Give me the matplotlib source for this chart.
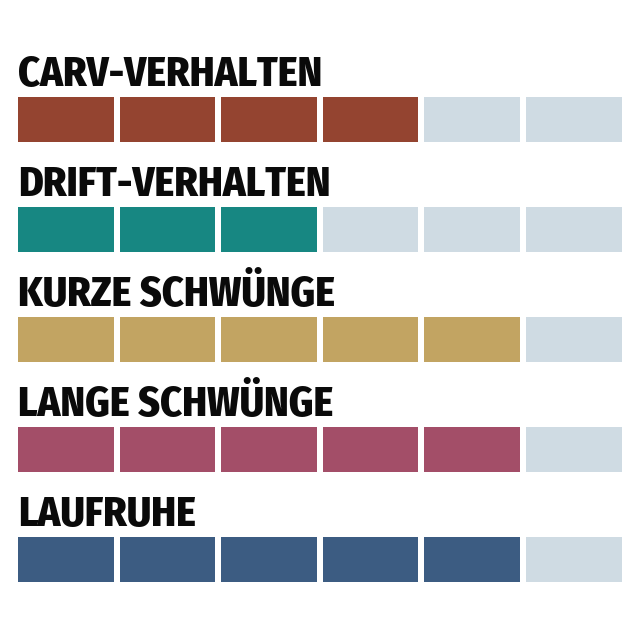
import matplotlib
matplotlib.use("Agg")
import matplotlib.pyplot as plt

# ratings out of 6
categories = ["CARV-VERHALTEN", "DRIFT-VERHALTEN", "KURZE SCHWÜNGE", "LANGE SCHWÜNGE", "LAUFRUHE"]
scores = [4, 3, 5, 5, 5]
max_score = 6
colors = ["#944430", "#178782", "#c2a462", "#a34e68", "#3c5c82"]
empty_color = "#cfdbe3"

fig = plt.figure(figsize=(6.4, 6.4), dpi=100)
ax = fig.add_axes([0, 0, 1, 1])

seg_w = 0.94
bar_h = 0.41
for i, (name, score, col) in enumerate(zip(categories, scores, colors)):
    for k in range(max_score):
        fc = col if k < score else empty_color
        ax.barh(i, seg_w, left=k, height=bar_h, align="center", color=fc, edgecolor="none")
    ax.text(0, i - 0.305, name, ha="left", va="baseline",
            fontsize=30, fontweight=800,
            family=["Fira Sans Condensed", "Roboto Condensed", "DejaVu Sans"], color="#0a0a0a")

# pixel-matched limits: segment pitch ~101.6px, row pitch 110px
ax.set_xlim(-18 / 101.6, (640 - 18) / 101.6)
ax.set_ylim((640 - 119.5) / 110, -119.5 / 110)
ax.axis("off")

fig.savefig("out.png", dpi=100, facecolor="white")
